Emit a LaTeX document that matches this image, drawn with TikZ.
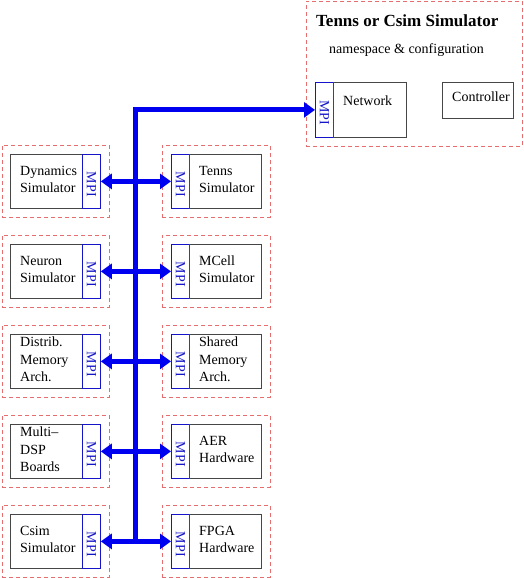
\documentclass[tikz,border=0pt]{standalone}
\usepackage{fontspec}
\setmainfont{Liberation Serif}
\usetikzlibrary{arrows.meta}
\definecolor{dashred}{RGB}{230,110,110}
\definecolor{mpiblue}{RGB}{20,20,200}
\definecolor{busblue}{RGB}{0,0,240}
\definecolor{boxgray}{RGB}{70,70,70}
\begin{document}
\begin{tikzpicture}[x=1pt,y=-1pt,
  frame/.style={draw=dashred, dash pattern=on 4pt off 3pt, line width=0.6pt, inner sep=0pt, anchor=north west},
  mainbox/.style={draw=boxgray, line width=0.8pt, inner sep=0pt, anchor=north west},
  mpistrip/.style={draw=mpiblue, line width=0.8pt, inner sep=0pt, anchor=north west, minimum width=18pt},
  mpitext/.style={text=mpiblue, font=\fontsize{14}{14}\selectfont, inner sep=0pt, rotate=-90},
  lbl/.style={font=\fontsize{14}{17.5}\selectfont, align=left, inner sep=0pt, anchor=west},
  txt/.style={font=\fontsize{14}{17}\selectfont, inner sep=0pt, anchor=base west},
  bus/.style={draw=busblue, line width=5pt, line join=miter},
  tip/.tip={Triangle[length=11pt,width=15pt]},
  conn/.style={bus, tip-tip},
]
\useasboundingbox (0,0) rectangle (524,578);

% top simulator frame
\node[frame, minimum width=216pt, minimum height=145pt] (topframe) at (306,1) {};
\node[txt, font=\fontsize{17}{20}\selectfont\bfseries] (title) at (316,27) {Tenns or Csim Simulator};
\node[txt] (ns) at (329,54) {namespace \& configuration};
\node[mpistrip, minimum height=55pt] (netmpi) at (315,82) {};
\node[mainbox, minimum width=73pt, minimum height=55pt] (net) at (333,82) {};
\node[mpitext] (netmpit) at ([yshift=-3pt]netmpi.center) {MPI};
\node[txt] (netlbl) at (343,105) {Network};
\node[mainbox, minimum width=71pt, minimum height=36pt] (ctrl) at (442,82) {};
\node[txt] (ctrllbl) at (452,101) {Controller};

% rows
\foreach \i/\lt/\rt in {0/{Dynamics\\Simulator}/{Tenns\\Simulator},
                        1/{Neuron\\Simulator}/{MCell\\Simulator},
                        2/{Distrib.\\Memory\\Arch.}/{Shared\\Memory\\Arch.},
                        3/{Multi--\\DSP\\Boards}/{AER\\Hardware},
                        4/{Csim\\Simulator}/{FPGA\\Hardware}} {
  \pgfmathsetmacro\t{154+90*\i}
  % left unit
  \node[frame, minimum width=107pt, minimum height=72pt] (lf\i) at (1.5,{\t-9}) {};
  \node[mainbox, minimum width=72pt, minimum height=54pt] (lm\i) at (10,\t) {};
  \node[mpistrip, minimum height=54pt] (ls\i) at (82,\t) {};
  \node[mpitext] (lmt\i) at ([yshift=-3pt]ls\i.center) {MPI};
  \node[lbl] (ll\i) at ([xshift=10pt,yshift=2pt]lm\i.west) {\lt};
  % right unit
  \node[frame, minimum width=108pt, minimum height=72pt] (rf\i) at (162,{\t-9}) {};
  \node[mpistrip, minimum height=54pt] (rs\i) at (171,\t) {};
  \node[mainbox, minimum width=72pt, minimum height=54pt] (rm\i) at (189,\t) {};
  \node[mpitext] (rmt\i) at ([yshift=-3pt]rs\i.center) {MPI};
  \node[lbl] (rl\i) at ([xshift=10pt,yshift=2pt]rm\i.west) {\rt};
}

% bus
\coordinate (busbot) at (135.5,541);
\draw[bus, -tip] (busbot) |- (netmpi.west);
\foreach \i in {0,...,4} {
  \draw[conn] (ls\i.east) -- (rs\i.west);
}
\end{tikzpicture}
\end{document}
